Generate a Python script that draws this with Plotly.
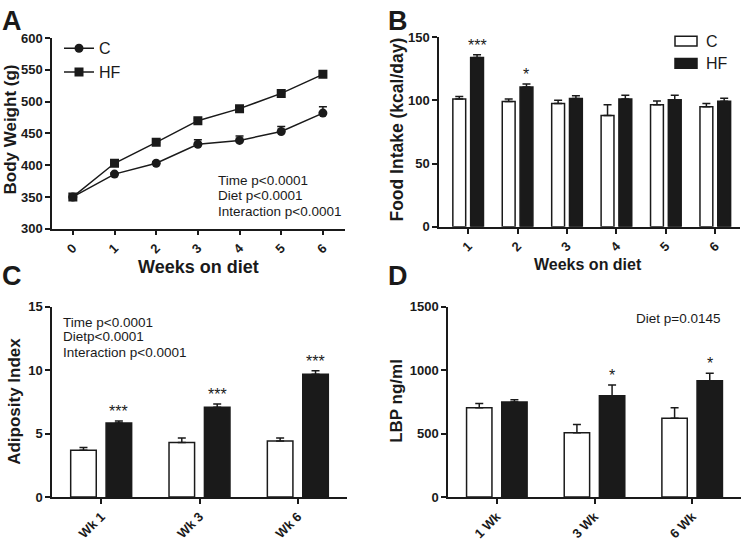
import plotly.graph_objects as go

FONT = "Liberation Sans, Arial, sans-serif"
W, H = 742, 544

# ---------------- data ----------------
# Panel A: body weight
weeks_a = [0, 1, 2, 3, 4, 5, 6]
bw_c = [350, 386, 403, 433, 439, 453, 482]
bw_c_err = [0, 2, 2, 7, 7, 8, 10]
bw_hf = [350, 403, 436, 470, 489, 513, 543]
bw_hf_err = [0, 3, 3, 3, 3, 3, 4]

# Panel B: food intake
weeks_b = [1, 2, 3, 4, 5, 6]
fi_c = [101, 99, 97.5, 88, 96.5, 95]
fi_c_err = [2, 2, 2.5, 8.5, 3, 2.5]
fi_hf = [134, 110.5, 101.5, 101, 100.5, 99.3]
fi_hf_err = [2, 2.5, 2.2, 3, 3.5, 2.3]
fi_stars = ["***", "*", "", "", "", ""]

# Panel C: adiposity index
cats_c = ["Wk 1", "Wk 3", "Wk 6"]
ai_c = [3.68, 4.29, 4.42]
ai_c_err = [0.22, 0.36, 0.23]
ai_hf = [5.83, 7.08, 9.66]
ai_hf_err = [0.15, 0.25, 0.28]
ai_stars = ["***", "***", "***"]

# Panel D: LBP
cats_d = ["1 Wk", "3 Wk", "6 Wk"]
lbp_c = [703, 506, 621]
lbp_c_err = [33, 66, 82]
lbp_hf = [749, 797, 915]
lbp_hf_err = [18, 85, 59]
lbp_stars = ["", "*", "*"]

# ---------------- style ----------------
BLACK = "#1a1a1a"
BAR_W = 0.26
OFF_C = -0.31
OFF_HF = 0.05


def px_x(a, b):
    return [a / W, b / W]


def px_y(top, bottom):
    return [1 - bottom / H, 1 - top / H]


fig = go.Figure()

# ---- A ----
fig.add_trace(go.Scatter(
    x=weeks_a, y=bw_c, mode="lines+markers", name="C",
    line=dict(color=BLACK, width=1.5),
    marker=dict(symbol="circle", size=9, color=BLACK),
    error_y=dict(type="data", array=bw_c_err, arrayminus=[0] * 7, symmetric=False,
                 color=BLACK, thickness=1.5, width=4),
    xaxis="x", yaxis="y", legend="legend"))
fig.add_trace(go.Scatter(
    x=weeks_a, y=bw_hf, mode="lines+markers", name="HF",
    line=dict(color=BLACK, width=1.5),
    marker=dict(symbol="square", size=9, color=BLACK),
    error_y=dict(type="data", array=bw_hf_err, arrayminus=[0] * 7, symmetric=False,
                 color=BLACK, thickness=1.5, width=4),
    xaxis="x", yaxis="y", legend="legend"))


def add_bars(x, c, ce, hf, he, xa, ya):
    n = len(x)
    fig.add_trace(go.Bar(
        x=x, y=c, name="C", width=BAR_W, offset=OFF_C,
        marker=dict(color="white", line=dict(color=BLACK, width=1.5)),
        error_y=dict(type="data", array=ce, arrayminus=[0] * n, symmetric=False,
                     color=BLACK, thickness=1.5, width=4),
        xaxis=xa, yaxis=ya, showlegend=False))
    fig.add_trace(go.Bar(
        x=x, y=hf, name="HF", width=BAR_W, offset=OFF_HF,
        marker=dict(color=BLACK, line=dict(color=BLACK, width=1.5)),
        error_y=dict(type="data", array=he, arrayminus=[0] * n, symmetric=False,
                     color=BLACK, thickness=1.5, width=4),
        xaxis=xa, yaxis=ya, showlegend=False))


add_bars(weeks_b, fi_c, fi_c_err, fi_hf, fi_hf_err, "x2", "y2")
add_bars(cats_c, ai_c, ai_c_err, ai_hf, ai_hf_err, "x3", "y3")
add_bars(cats_d, lbp_c, lbp_c_err, lbp_hf, lbp_hf_err, "x4", "y4")

annotations = []
shapes = []


def stars(xs, vals, errs, labels, xref, yref, numeric):
    for i, (v, e, s) in enumerate(zip(vals, errs, labels)):
        if not s:
            continue
        base = xs[i] if numeric else i
        annotations.append(dict(
            x=base + OFF_HF + BAR_W / 2, y=v + e, xref=xref, yref=yref,
            text=s, showarrow=False, yanchor="bottom", yshift=-1,
            font=dict(family=FONT, size=16, color=BLACK)))


stars(weeks_b, fi_hf, fi_hf_err, fi_stars, "x2", "y2", True)
stars(cats_c, ai_hf, ai_hf_err, ai_stars, "x3", "y3", False)
stars(cats_d, lbp_hf, lbp_hf_err, lbp_stars, "x4", "y4", False)


def txt(x, y, s, size=13, bold=False, angle=0, xanchor="left", yanchor="middle"):
    annotations.append(dict(
        x=x / W, y=1 - y / H, xref="paper", yref="paper", text=s, showarrow=False,
        xanchor=xanchor, yanchor=yanchor, textangle=angle, align="left",
        font=dict(family=FONT, size=size, color=BLACK, weight="bold" if bold else "normal")))


# panel letters
txt(0, 14, "A", 27, True)
txt(386, 14, "B", 27, True)
txt(0, 277, "C", 27, True)
txt(386, 277, "D", 27, True)

# axis titles
txt(11, 126, "Body Weight (g)", 17, True, -90, "center")
txt(198, 267, "Weeks on diet", 18, True, 0, "center")
txt(397, 126, "Food Intake (kcal/day)", 17.5, True, -90, "center")
txt(588, 265, "Weeks on diet", 16, True, 0, "center")
txt(15, 406, "Adiposity Index", 17, True, -90, "center")
txt(397, 405, "LBP ng/ml", 17, True, -90, "center")

# stats text
txt(216, 178, "Time p<0.0001", 13.5)
txt(216, 194, "Diet p<0.0001", 13.5)
txt(216, 210, "Interaction p<0.0001", 13.5)
txt(61, 324, "Time p<0.0001", 13.5)
txt(61, 339, "Dietp<0.0001", 13.5)
txt(61, 355, "Interaction p<0.0001", 13.5)
txt(634, 320, "Diet p=0.0145", 13.5)

# legend for panel B (key boxes + labels)
legend_b = [("C", "white", 35), ("HF", BLACK, 58)]
for name, fill, yc in legend_b:
    shapes.append(dict(type="rect", xref="paper", yref="paper",
                       x0=675 / W, x1=697 / W, y0=1 - (yc + 5) / H, y1=1 - (yc - 5) / H,
                       fillcolor=fill, line=dict(color=BLACK, width=1.5)))
    txt(704, yc, name, 16)

tickfont = dict(family=FONT, size=13, color=BLACK, weight="bold")
xtickfont = dict(family=FONT, size=13, color=BLACK, weight="bold")
axis_common = dict(showgrid=False, zeroline=False, showline=True, linecolor=BLACK,
                   linewidth=1.5, ticks="outside", tickcolor=BLACK, tickwidth=1.5,
                   ticklen=5)

fig.update_layout(
    width=W, height=H, margin=dict(l=0, r=0, t=0, b=0),
    paper_bgcolor="white", plot_bgcolor="white",
    barmode="overlay",
    font=dict(family=FONT, color=BLACK),
    annotations=annotations,
    shapes=shapes,
    xaxis=dict(domain=px_x(52, 345), range=[-0.5, 6.53], tickvals=weeks_a,
               tickangle=-45, tickfont=xtickfont, anchor="y", **axis_common),
    yaxis=dict(domain=px_y(32, 228), range=[300, 600], dtick=50,
               tickfont=tickfont, anchor="x", **axis_common),
    xaxis2=dict(domain=px_x(439, 740), range=[0.41, 6.5], tickvals=weeks_b,
                tickangle=-45, tickfont=xtickfont, anchor="y2", **axis_common),
    yaxis2=dict(domain=px_y(31, 226), range=[0, 150], dtick=50,
                tickfont=tickfont, anchor="x2", **axis_common),
    xaxis3=dict(domain=px_x(52, 347), range=[-0.5, 2.5], type="category",
                tickangle=-45, tickfont=xtickfont, anchor="y3", **axis_common),
    yaxis3=dict(domain=px_y(308, 504), range=[0, 15], dtick=5,
                tickfont=tickfont, anchor="x3", **axis_common),
    xaxis4=dict(domain=px_x(448, 741), range=[-0.5, 2.5], type="category",
                tickangle=-45, tickfont=xtickfont, anchor="y4", **axis_common),
    yaxis4=dict(domain=px_y(308, 504), range=[0, 1500], dtick=500,
                tickfont=tickfont, anchor="x4", **axis_common),
    legend=dict(x=59 / W, y=1 - 25 / H, xanchor="left", yanchor="top",
                bgcolor="rgba(0,0,0,0)", font=dict(family=FONT, size=16, color=BLACK),
                itemwidth=30, tracegroupgap=2),
)

fig.write_html("out.html",
               config={"displayModeBar": False},
               post_script="document.body.style.margin='0';document.body.style.overflow='hidden';")
